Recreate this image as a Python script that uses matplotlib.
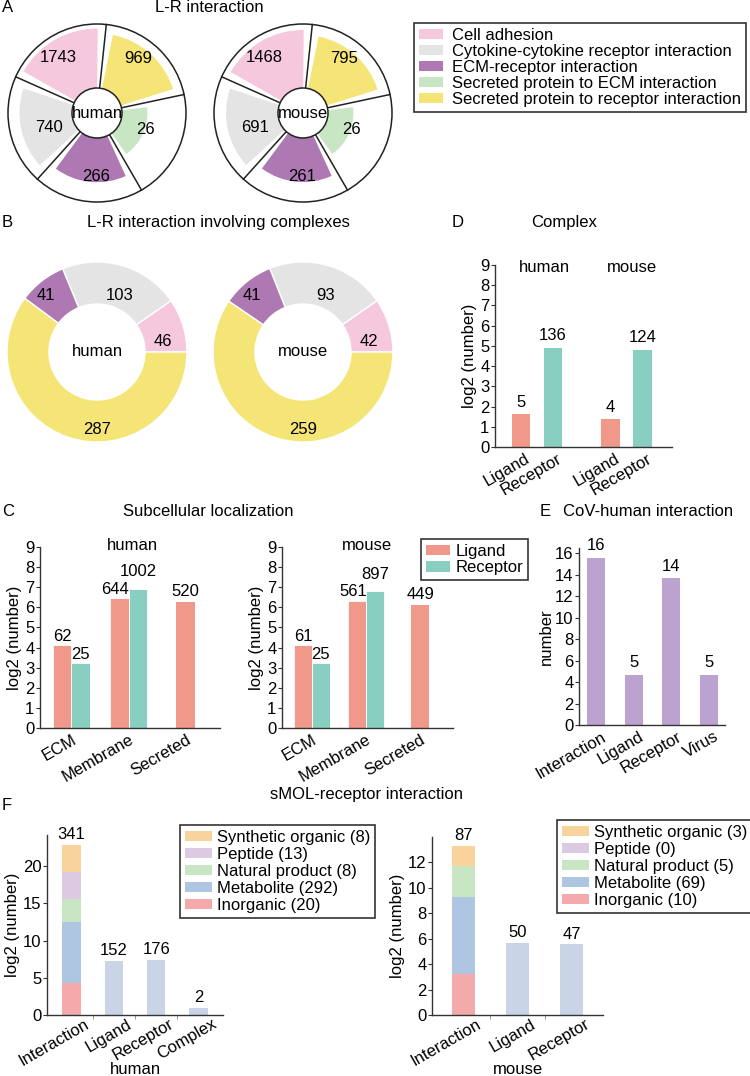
import numpy as np
import matplotlib
matplotlib.use('Agg')
import matplotlib.pyplot as plt
from matplotlib.patches import Wedge, Circle, Patch
from matplotlib.transforms import ScaledTranslation

plt.rcParams['font.family'] = ['Liberation Sans', 'DejaVu Sans']
plt.rcParams['font.size'] = 12

#---------------------------------------------------------------------
# Data
#---------------------------------------------------------------------
# A: L-R interaction (legend order)
lr_types = ['Cell adhesion', 'Cytokine-cytokine receptor interaction', 'ECM-receptor interaction',
            'Secreted protein to ECM interaction', 'Secreted protein to receptor interaction']
lr_human = [1743, 740, 266, 26, 969]
lr_mouse = [1468, 691, 261, 26, 795]

# B: L-R interaction involving complexes (pink, grey, purple, yellow)
cx_human = [46, 103, 41, 287]
cx_mouse = [42, 93, 41, 259]

# C: subcellular localization
loc_cats = ['ECM', 'Membrane', 'Secreted']
loc_lig_human = [62, 644, 520]
loc_rec_human = [25, 1002, None]
loc_lig_mouse = [61, 561, 449]
loc_rec_mouse = [25, 897, None]

# D: complex
cplx_cats = ['Ligand', 'Receptor', 'Ligand', 'Receptor']
cplx_counts = [5, 136, 4, 124]

# E: CoV-human interaction
cov_cats = ['Interaction', 'Ligand', 'Receptor', 'Virus']
cov_counts = [16, 5, 14, 5]
cov_heights = [15.6, 4.7, 13.7, 4.7]

# F: sMOL-receptor interaction (stack from bottom to top)
smol_types = ['Inorganic', 'Metabolite', 'Natural product', 'Peptide', 'Synthetic organic']
smol_n_human = [20, 292, 8, 13, 8]
smol_h_human = [4.3, 8.2, 3.1, 3.6, 3.7]
smol_n_mouse = [10, 69, 5, 0, 3]
smol_h_mouse = [3.2, 6.1, 2.4, 0.0, 1.6]
smol_total_human = 341
smol_total_mouse = 87
smol_cats_human = ['Interaction', 'Ligand', 'Receptor', 'Complex']
smol_other_human = [152, 176, 2]
smol_cats_mouse = ['Interaction', 'Ligand', 'Receptor']
smol_other_mouse = [50, 47]

#---------------------------------------------------------------------
# Colors
#---------------------------------------------------------------------
PINK, GREY, PURPLE, GREEN, YELLOW = '#F5C8DD', '#E4E4E4', '#AE78B2', '#C8E5C4', '#F5E577'
lr_colors = [PINK, GREY, PURPLE, GREEN, YELLOW]
cx_colors = [PINK, GREY, PURPLE, YELLOW]
LIG, REC = '#F0998B', '#88CEC1'
COV = '#BCA2CE'
smol_colors = ['#F4AAAA', '#AEC6E1', '#C9E6C4', '#DCC9E2', '#F8D49C']
SMOL_OTHER = '#C9D4E7'
EDGE = '#333333'

W, H = 750, 1076
fig = plt.figure(figsize=(W / 100, H / 100), dpi=100)


def box(x0, y0, x1, y1):
    return [x0 / W, 1 - y1 / H, (x1 - x0) / W, (y1 - y0) / H]


def ftext(x, y, s, **kw):
    kw.setdefault('ha', 'center')
    kw.setdefault('va', 'center')
    fig.text(x / W, 1 - y / H, s, **kw)


def style_bar_ax(ax, xpad=3):
    for s in ['top', 'right']:
        ax.spines[s].set_visible(False)
    for s in ['left', 'bottom']:
        ax.spines[s].set_color(EDGE)
        ax.spines[s].set_linewidth(1.0)
    ax.tick_params(axis='y', direction='out', length=3, width=0.8, pad=1, labelsize=12, color=EDGE)
    ax.tick_params(axis='x', length=0, pad=xpad, labelsize=12)


def rot_labels(ax, pos, labels, dx=0.0):
    ax.set_xticks(pos)
    ax.set_xticklabels(labels, rotation=30, ha='right', rotation_mode='anchor')
    if dx:
        off = ScaledTranslation(dx / 100, 0, fig.dpi_scale_trans)
        for t in ax.get_xticklabels():
            t.set_transform(t.get_transform() + off)


#---------------------------------------------------------------------
# A: rose charts
#---------------------------------------------------------------------
R_IN, R_OUT = 25, 89
lab_r = [68, 50, 64, 51, 68]


def rose(cx, cy, vals, name):
    ax = fig.add_axes(box(cx - 95, cy - 95, cx + 95, cy + 95))
    ax.set_xlim(-95, 95)
    ax.set_ylim(-95, 95)
    ax.set_aspect('equal')
    ax.axis('off')
    ax.add_patch(Circle((0, 0), R_OUT, fc='white', ec='#222222', lw=1.1, zorder=1))
    for i, (v, c, lr) in enumerate(zip(vals, lr_colors, lab_r)):
        a0 = 84 + 72 * i
        r = 24 + 8.1 * np.log(v)
        ax.add_patch(Wedge((0, 0), r, a0 + 5.5, a0 + 72 - 5.5, fc=c, ec='none', zorder=2))
        t = np.deg2rad(a0)
        ax.plot([R_IN * np.cos(t), R_OUT * np.cos(t)], [R_IN * np.sin(t), R_OUT * np.sin(t)],
                color='#222222', lw=1.1, zorder=3)
        m = np.deg2rad(a0 + 41)
        ax.text(lr * np.cos(m), lr * np.sin(m), str(v), ha='center', va='center', fontsize=12, zorder=6)
    ax.add_patch(Circle((0, 0), R_IN, fc='white', ec='#222222', lw=1.1, zorder=5))
    ax.text(0, 0, name, ha='center', va='center', fontsize=12, zorder=7)


rose(97, 113, lr_human, 'human')
rose(303, 113, lr_mouse, 'mouse')
ftext(2, 8, 'A', ha='left')
ftext(209, 8, 'L-R interaction')

legA = fig.legend(handles=[Patch(fc=c, ec='none') for c in lr_colors], labels=lr_types,
                  loc='upper left', bbox_to_anchor=(414 / W, 1 - 23 / H), borderaxespad=0,
                  fontsize=12, fancybox=False, edgecolor=EDGE, framealpha=1,
                  labelspacing=0.06, handlelength=1.45, handleheight=0.55, handletextpad=0.55,
                  borderpad=0.3)
legA.get_frame().set_linewidth(1.2)

#---------------------------------------------------------------------
# B: donuts
#---------------------------------------------------------------------
cx_lab_ang = [9, 68, 132, 270]
cx_lab_r = [67, 61, 76, 78]


def donut(cx, cy, vals, name):
    ax = fig.add_axes(box(cx - 95, cy - 95, cx + 95, cy + 95))
    ax.pie(vals, colors=cx_colors, startangle=0, counterclock=True, radius=90,
           wedgeprops=dict(width=42, edgecolor='white', linewidth=1.0))
    ax.set_xlim(-95, 95)
    ax.set_ylim(-95, 95)
    ax.set_aspect('equal')
    for v, a, r in zip(vals, cx_lab_ang, cx_lab_r):
        t = np.deg2rad(a)
        ax.text(r * np.cos(t), r * np.sin(t), str(v), ha='center', va='center', fontsize=12)
    ax.text(0, 0, name, ha='center', va='center', fontsize=12)


donut(97, 352, cx_human, 'human')
donut(303, 352, cx_mouse, 'mouse')
ftext(2, 222, 'B', ha='left')
ftext(218, 222, 'L-R interaction involving complexes')

#---------------------------------------------------------------------
# C: subcellular localization
#---------------------------------------------------------------------
bw = 0.33


def loc_panel(rect, lig, rec, name, name_x):
    ax = fig.add_axes(box(*rect))
    style_bar_ax(ax)
    x = np.arange(len(loc_cats))
    for i in x:
        hl = np.log(lig[i])
        if rec[i] is None:
            ax.bar(i, hl, bw, color=LIG)
            ax.annotate(str(lig[i]), (i, hl), xytext=(0, 2), textcoords='offset points',
                        ha='center', va='bottom', fontsize=12)
        else:
            hr = np.log(rec[i])
            ax.bar(i - bw / 2, hl, bw, color=LIG, ec='white', lw=0.6)
            ax.bar(i + bw / 2, hr, bw, color=REC, ec='white', lw=0.6)
            up = 7 if hr > hl + 0.3 else 1
            ax.annotate(str(lig[i]), (i - bw / 2, hl), xytext=(-3 if up == 7 else 0, 1),
                        textcoords='offset points', ha='center', va='bottom', fontsize=12)
            ax.annotate(str(rec[i]), (i + bw / 2, hr), xytext=(0, up),
                        textcoords='offset points', ha='center', va='bottom', fontsize=12)
    ax.set_xlim(-0.55, 2.6)
    ax.set_ylim(0, 9)
    ax.set_yticks(range(10))
    rot_labels(ax, x, loc_cats)
    ax.set_ylabel('log2 (number)', fontsize=12, labelpad=2)
    ftext(name_x, 546, name)
    return ax


loc_panel((40, 547, 220, 728), loc_lig_human, loc_rec_human, 'human', 132)
loc_panel((282, 547, 453, 728), loc_lig_mouse, loc_rec_mouse, 'mouse', 367)
ftext(2, 512, 'C', ha='left')
ftext(208, 512, 'Subcellular localization')

legC = fig.legend(handles=[Patch(fc=LIG, ec='none'), Patch(fc=REC, ec='none')],
                  labels=['Ligand', 'Receptor'], loc='upper left',
                  bbox_to_anchor=(421 / W, 1 - 539 / H), borderaxespad=0, fontsize=12,
                  fancybox=False, edgecolor=EDGE, framealpha=1, labelspacing=0.08,
                  handlelength=1.45, handleheight=0.6, handletextpad=0.3, borderpad=0.3)
legC.get_frame().set_linewidth(1.2)

#---------------------------------------------------------------------
# D: complex
#---------------------------------------------------------------------
axD = fig.add_axes(box(495, 265, 672, 447))
style_bar_ax(axD)
xd = [0, 1, 2.8, 3.8]
hd = np.log(cplx_counts)
axD.bar(xd, hd, 0.57, color=[LIG, REC, LIG, REC])
for xi, h, n in zip(xd, hd, cplx_counts):
    axD.annotate(str(n), (xi, h), xytext=(0, 3), textcoords='offset points',
                 ha='center', va='bottom', fontsize=12)
axD.set_xlim(-0.81, 4.72)
axD.set_ylim(0, 9)
axD.set_yticks(range(10))
rot_labels(axD, xd, cplx_cats, dx=4)
axD.set_ylabel('log2 (number)', fontsize=12, labelpad=2)
ftext(452, 222, 'D', ha='left')
ftext(564, 222, 'Complex')
ftext(544, 267, 'human')
ftext(632, 267, 'mouse')

#---------------------------------------------------------------------
# E: CoV-human interaction
#---------------------------------------------------------------------
axE = fig.add_axes(box(579, 548, 725, 725))
style_bar_ax(axE)
xe = np.arange(len(cov_cats))
axE.bar(xe, cov_heights, 0.48, color=COV)
for xi, h, n in zip(xe, cov_heights, cov_counts):
    axE.annotate(str(n), (xi, h), xytext=(0, 3), textcoords='offset points',
                 ha='center', va='bottom', fontsize=12)
axE.set_xlim(-0.45, 3.42)
axE.set_ylim(0, 16.5)
axE.set_yticks(range(0, 17, 2))
rot_labels(axE, xe, cov_cats, dx=5)
axE.set_ylabel('number', fontsize=12, labelpad=1)
ftext(540, 512, 'E', ha='left')
ftext(648, 512, 'CoV-human interaction')

#---------------------------------------------------------------------
# F: sMOL-receptor interaction
#---------------------------------------------------------------------


def smol_panel(rect, heights, counts, total, cats, others, ylim, yticks, name, name_x, leg_xy):
    ax = fig.add_axes(box(*rect))
    style_bar_ax(ax, xpad=1)
    bottom = 0
    for h, c in zip(heights, smol_colors):
        ax.bar(0, h, 0.43, bottom=bottom, color=c)
        bottom += h
    ax.annotate(str(total), (0, bottom), xytext=(0, 2), textcoords='offset points',
                ha='center', va='bottom', fontsize=12)
    xo = np.arange(1, len(cats))
    ho = np.log2(others)
    ax.bar(xo, ho, 0.43, color=SMOL_OTHER)
    for xi, h, n in zip(xo, ho, others):
        ax.annotate(str(n), (xi, h), xytext=(0, 2), textcoords='offset points',
                    ha='center', va='bottom', fontsize=12)
    ax.set_xlim(-0.58, len(cats) - 0.42)
    ax.set_ylim(*ylim)
    ax.set_yticks(yticks)
    rot_labels(ax, np.arange(len(cats)), cats, dx=13)
    ax.set_xticks(np.arange(len(cats) - 1) + 0.5, minor=True)
    ax.tick_params(axis='x', which='minor', length=3, width=0.6, color='#888888', direction='out')
    ax.set_ylabel('log2 (number)', fontsize=12, labelpad=2)
    ftext(name_x, 1069, name)
    labels = [f'{t} ({n})' for t, n in zip(smol_types, counts)][::-1]
    handles = [Patch(fc=c, ec='none') for c in smol_colors][::-1]
    leg = fig.legend(handles=handles, labels=labels, loc='upper left',
                     bbox_to_anchor=(leg_xy[0] / W, 1 - leg_xy[1] / H), borderaxespad=0,
                     fontsize=12, fancybox=False, edgecolor=EDGE, framealpha=1,
                     labelspacing=0.12, handlelength=1.6, handleheight=0.6,
                     handletextpad=0.3, borderpad=0.3)
    leg.get_frame().set_linewidth(1.2)


smol_panel((47, 835, 223, 1015), smol_h_human, smol_n_human, smol_total_human,
           smol_cats_human, smol_other_human, (0, 24.2), range(0, 21, 5), 'human', 135, (180, 825))
smol_panel((432, 837, 603, 1015), smol_h_mouse, smol_n_mouse, smol_total_mouse,
           smol_cats_mouse, smol_other_mouse, (0, 14), range(0, 13, 2), 'mouse', 518, (557, 820))
ftext(2, 805, 'F', ha='left')
ftext(366, 795, 'sMOL-receptor interaction')

plt.savefig('out.png', dpi=100)
